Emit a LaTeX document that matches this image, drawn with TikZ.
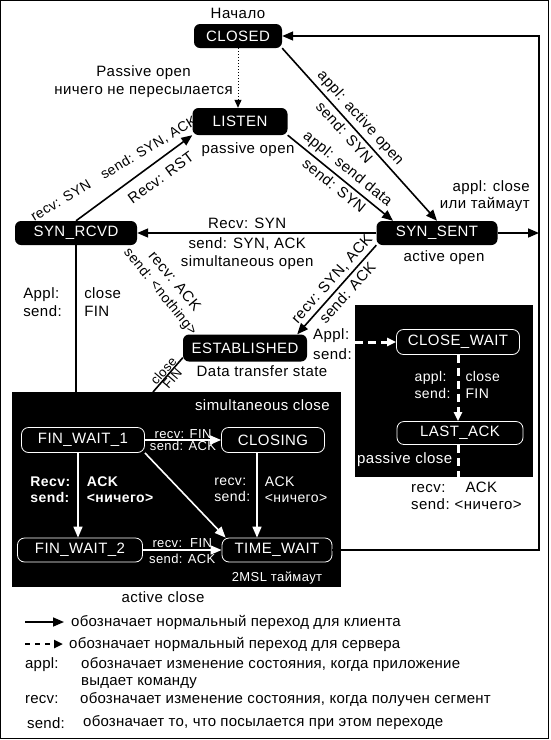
\documentclass[tikz,border=0pt]{standalone}
\usepackage{fontspec}
\setmainfont{Liberation Sans}[LetterSpace=3]
\newfontfamily\legendfont{Liberation Sans}[LetterSpace=1.5]
\usetikzlibrary{arrows.meta}

\begin{document}
\begin{tikzpicture}[x=1pt,y=-1pt,
    every node/.style={font=\fontsize{15}{18}\selectfont},
    state/.style={fill=black, text=white, rounded corners=6pt, inner sep=0pt, minimum height=24pt},
    substate/.style={draw=white, text=white, line width=0.8pt, rounded corners=7pt, inner sep=0pt, minimum height=25pt},
    lbl/.style={inner sep=1pt, align=left},
    wlbl/.style={lbl, text=white},
    legend/.style={lbl, font=\legendfont\fontsize{15}{17}\selectfont},
    small/.style={font=\fontsize{13}{15}\selectfont, inner sep=0.5pt},
    bold/.style={font=\fontsize{14}{16}\selectfont\bfseries},
    conn/.style={line width=1.6pt, -{Triangle[length=11pt,width=9pt]}},
    rconn/.style={line width=1.6pt, {Triangle[length=11pt,width=9pt]}-},
    wconn/.style={conn, white},
    wdash/.style={white, line width=3pt, dash pattern=on 8pt off 5pt}
]
\useasboundingbox (0,0) rectangle (550,740);
\draw[line width=1pt] (0.5,0.5) rectangle (548.5,738.5);

% black areas
\fill (12,392) rectangle (341,587);
\fill (355,305) rectangle (533,477);
\coordinate (actnw) at (12,392);
\coordinate (srvnw) at (355,305);
\coordinate (srvse) at (533,477);

% main states
\node[state, minimum width=88pt] (closed) at (238,36) {CLOSED};
\node[state, minimum width=95pt, minimum height=27pt] (listen) at (240,121.5) {LISTEN};
\node[state, minimum width=122pt] (synrcvd) at (76,233) {SYN\_RCVD};
\node[state, minimum width=121pt] (synsent) at (437,233) {SYN\_SENT};
\node[state, minimum width=124pt, minimum height=27pt] (established) at (245,348) {ESTABLISHED};

% states inside the black areas
\node[substate, minimum width=123pt] (finwait1) at (83,440) {FIN\_WAIT\_1};
\node[substate, minimum width=103pt] (closing) at (273,440) {CLOSING};
\node[substate, minimum width=125pt, minimum height=24pt] (finwait2) at (80,550) {FIN\_WAIT\_2};
\node[substate, minimum width=110pt, minimum height=24pt] (timewait) at (277,550) {TIME\_WAIT};
\node[substate, minimum width=123pt] (closewait) at (458,342) {CLOSE\_WAIT};
\node[substate, minimum width=126pt, minimum height=23pt] (lastack) at (460,433) {LAST\_ACK};

\node (start) at (238,13) {Начало};
\node[lbl, anchor=east, align=center] (passive) at (234,82) {Passive open\\ничего не пересылается};
\node[lbl] (pasopen) at (248,150) {passive open};
\node[lbl] (actopen) at (444,258) {active open};
\node[lbl] (datatr) at (262,371) {Data transfer state};
\node[lbl, anchor=west, font=\fontsize{15}{20}\selectfont] (estappl) at (312,344) {Appl:\\send:};
\node[lbl, anchor=east, align=right, font=\fontsize{15}{17}\selectfont] (closelbl) at (531,196) {appl: close\\или таймаут};
\node[lbl, rotate=-50] (ackrcv) at (175,281) {recv: ACK};
\node[lbl, rotate=-51, font=\fontsize{14}{16}\selectfont] (acksend) at (160,292) {send: <nothing>};
\node[lbl, rotate=31, font=\fontsize{14}{16}\selectfont] (synlbl) at (114,169) {recv: SYN\quad send: SYN, ACK};

% transitions
\draw[dotted, line width=1pt, -{Triangle[length=8pt,width=7pt]}] (closed.south) -- (closed.south |- listen.north);
\draw[conn] (closed.south east) -- (synsent.north)
    node[pos=0.45, sloped, above] {appl: active open}
    node[pos=0.45, sloped, below] {send: SYN};
\draw[conn] (listen.south east) -- ([xshift=-44pt]synsent.north)
    node[pos=0.5, sloped, above] {appl: send data}
    node[pos=0.5, sloped, below] {send: SYN};
\draw[conn] (synrcvd.north) -- (listen.south west)
    node[pos=0.65, sloped, below=6pt] {Recv: RST};
\draw[conn] (synsent.west) -- (synrcvd.east)
    node[pos=0.54, above] {Recv: SYN}
    node[pos=0.54, below, align=center] {send: SYN, ACK\\simultaneous open};
\draw[rconn] ([xshift=-10pt]established.north east) -- (synsent.south west)
    node[pos=0.54, sloped, above] {recv: SYN, ACK}
    node[pos=0.54, sloped, below] {send: ACK};

\coordinate (rt) at (539,36);
\coordinate (rb) at (539,550);
\draw[conn] (timewait.east) -- (rb) -- (rt) -- (closed.east);
\draw[conn] (synsent.east) -- (synsent.east -| rt);

\draw[line width=2.5pt] (synrcvd.south) -- (synrcvd.south |- actnw)
    node[pos=0.39, left=12pt, lbl] {Appl:\\send:}
    node[pos=0.39, right=6pt, lbl] {close\\FIN};
\coordinate (fwtop) at (153,392);
\draw[line width=1.6pt] (fwtop) -- ([yshift=4pt]established.south west)
    node[pos=0.5, sloped, above, small] {close}
    node[pos=0.5, sloped, below, small] {FIN};

% active close
\node[wlbl, anchor=east] (simclose) at (331,405) {simultaneous close};
\draw[wconn] (finwait1.east) -- (closing.west)
    node[midway, above, small, text=white] {recv: FIN}
    node[midway, below, small, text=white] {send: ACK};
\draw[wconn] ([xshift=-5pt]finwait1.south) -- ([xshift=-5pt]finwait1.south |- finwait2.north)
    node[pos=0.43, left=6pt, wlbl, bold] {Recv:\\send:}
    node[pos=0.43, right=7pt, wlbl, bold] {ACK\\<ничего>};
\draw[wconn] (finwait1.south east) -- ([xshift=4pt]timewait.north west);
\draw[wconn] ([xshift=-16pt]closing.south) -- ([xshift=-16pt]closing.south |- timewait.north)
    node[pos=0.43, left=5pt, wlbl, font=\fontsize{14}{16}\selectfont] {recv:\\send:}
    node[pos=0.43, right=6pt, wlbl, font=\fontsize{14}{16}\selectfont] {ACK\\<ничего>};
\draw[wconn] (finwait2.east) -- (timewait.west)
    node[midway, above=1pt, small, text=white] {recv:\ \ FIN}
    node[midway, below=3pt, small, text=white] {send: ACK};
\node[wlbl, small] (msl) at (277,578) {2MSL таймаут};
\node[lbl] (actclose) at (163,597) {active close};

% passive close
\coordinate (cwin) at (srvnw |- closewait.west);
\draw[wdash, -{Triangle[length=9pt,width=8pt]}] (cwin) -- (closewait.west);
\draw[wdash, -{Triangle[length=9pt,width=8pt]}] (closewait.south) -- (closewait.south |- lastack.north)
    node[pos=0.46, left=5pt, wlbl, font=\fontsize{14}{17}\selectfont] {appl:\\send:}
    node[pos=0.46, right=5pt, wlbl, font=\fontsize{14}{17}\selectfont] {close\\FIN};
\draw[wdash] (closewait.south |- lastack.south) -- (closewait.south |- srvse);
\node[wlbl, anchor=west] (pasclose) at (356,460) {passive close};
\node[lbl, anchor=west, font=\fontsize{15}{17}\selectfont] (srvack) at (410,496) {recv:\hspace{20pt}ACK\\send:\hspace{5pt}<ничего>};

% legend
\node[legend, anchor=west] (lgclient) at (70,622) {обозначает нормальный переход для клиента};
\node[legend, anchor=west] (lgserver) at (68,644) {обозначает нормальный переход для сервера};
\coordinate (lgc) at (25,622);
\coordinate (lgs) at (25,644);
\draw[conn, shorten >=6pt] (lgc) -- (lgclient.west);
\draw[line width=2.5pt, dash pattern=on 5pt off 5pt, -{Triangle[length=9pt,width=8pt]}, shorten >=5pt] (lgs) -- (lgserver.west);
\node[legend, anchor=west] (lgappl) at (24,665) {appl:};
\node[legend, anchor=north west] (lgappltxt) at (80,656) {обозначает изменение состояния, когда приложение\\выдает команду};
\node[legend, anchor=west] (lgrecv) at (24,700) {recv:};
\node[legend, anchor=west] (lgrecvtxt) at (79,700) {обозначает изменение состояния, когда получен сегмент};
\node[legend, anchor=west] (lgsend) at (26,723) {send:};
\node[legend, anchor=west] (lgsendtxt) at (82,723) {обозначает то, что посылается при этом переходе};
\end{tikzpicture}
\end{document}
